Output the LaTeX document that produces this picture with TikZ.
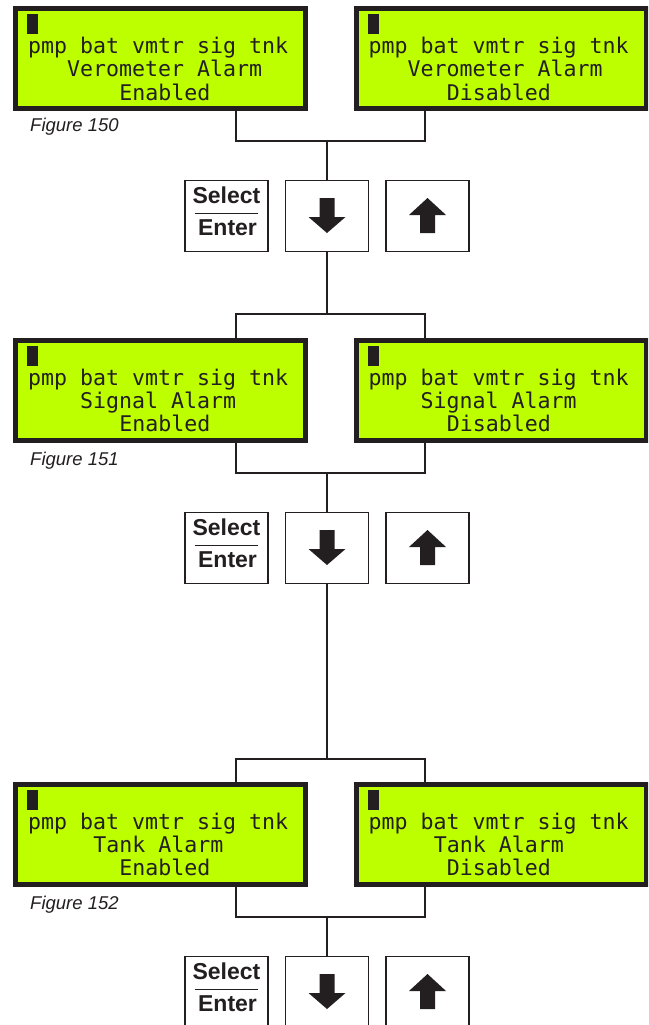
\documentclass[tikz,border=0pt]{standalone}
\usepackage{fontspec}
\setmainfont{Liberation Sans}
\newfontfamily\lcdfont{DejaVu Sans Mono}
\usetikzlibrary{calc}
\definecolor{lcdgreen}{RGB}{190,255,0}
\definecolor{ink}{RGB}{35,31,32}
\tikzset{
 lcd/.style={draw=ink, line width=5pt, fill=lcdgreen, minimum width=290pt, minimum height=100pt, inner sep=0pt, outer sep=0pt},
 lcdtxt/.style={anchor=base west, inner sep=0pt, outer sep=0pt, font=\lcdfont\fontsize{21.6}{24}\selectfont, text=ink},
 keybox/.style={draw=ink, line width=1.2pt, fill=white, minimum width=83pt, minimum height=71pt, inner sep=0pt, outer sep=0pt},
 wire/.style={draw=ink, line width=2pt},
 figlbl/.style={anchor=base west, inner sep=0pt, font=\itshape\fontsize{18.5}{20}\selectfont, text=ink},
 keytxt/.style={inner sep=0pt, font=\bfseries\fontsize{23}{25}\selectfont, text=ink, anchor=base},
}
\newcommand\lcdpanel[7]{%
 \node[lcd] (#1) at (#2,#3) {};
 \fill[ink] ($(#1.north west)+(11.5,6)$) rectangle ++(11,19.5);
 \node[lcdtxt] (#1-a) at ($(#1.north west)+(12.5,45.5)$) {pmp bat vmtr sig tnk};
 \node[lcdtxt] (#1-b) at ($(#1.north west)+(12.5+#4*13.05,68.5)$) {#5};
 \node[lcdtxt] (#1-c) at ($(#1.north west)+(12.5+#6*13.05,91.5)$) {#7};
}
\newcommand\keyrow[2]{%
 \node[keybox] (S#1) at (226.5,#2) {};
 \node[keybox] (D#1) at (327,#2) {};
 \node[keybox] (U#1) at (427.5,#2) {};
 \node[keytxt] (S#1t) at ($(S#1.center)+(0,-13)$) {Select};
 \draw[ink, line width=1pt] ($(S#1.center)+(-32,-3)$) -- ($(S#1.center)+(31,-3)$);
 \node[keytxt] (S#1b) at ($(S#1.center)+(1,19)$) {Enter};
 \begin{scope}[shift={(D#1.center)}]
  \fill[ink] (-7.5,-18) -- (7.5,-18) -- (7.5,1) -- (18.5,1) -- (0,17) -- (-18.5,1) -- (-7.5,1) -- cycle;
 \end{scope}
 \begin{scope}[shift={(U#1.center)}]
  \fill[ink] (-7.5,17) -- (7.5,17) -- (7.5,-1) -- (18.5,-1) -- (0,-18) -- (-18.5,-1) -- (-7.5,-1) -- cycle;
 \end{scope}
}
\begin{document}
\begin{tikzpicture}[x=1pt,y=-1pt]
\useasboundingbox (0,0) rectangle (648,1025);
\clip (0,0) rectangle (648,1025);
\fill[white] (0,0) rectangle (648,1025);

% group 1
\lcdpanel{L1}{160.5}{58.5}{3}{Verometer Alarm}{7}{Enabled}
\lcdpanel{R1}{501}{58.5}{3}{Verometer Alarm}{6}{Disabled}
\node[figlbl] (F1) at (30,131) {Figure 150};
\keyrow{1}{216}
\coordinate (j1) at (327,141);
\draw[wire] ([xshift=75.5pt]L1.south) |- (j1) -| ([xshift=-76pt]R1.south);
\draw[wire] (j1) -- (D1.north);

% group 2
\lcdpanel{L2}{160.5}{390}{4}{Signal Alarm}{7}{Enabled}
\lcdpanel{R2}{501}{390}{4}{Signal Alarm}{6}{Disabled}
\node[figlbl] (F2) at (30,465) {Figure 151};
\coordinate (k2) at (327,314);
\draw[wire] (D1.south) -- (k2);
\draw[wire] ([xshift=75.5pt]L2.north) |- (k2) -| ([xshift=-76pt]R2.north);
\keyrow{2}{548}
\coordinate (j2) at (327,473);
\draw[wire] ([xshift=75.5pt]L2.south) |- (j2) -| ([xshift=-76pt]R2.south);
\draw[wire] (j2) -- (D2.north);

% group 3
\lcdpanel{L3}{160.5}{834}{5}{Tank Alarm}{7}{Enabled}
\lcdpanel{R3}{501}{834}{5}{Tank Alarm}{6}{Disabled}
\node[figlbl] (F3) at (30,909) {Figure 152};
\coordinate (k3) at (327,759);
\draw[wire] (D2.south) -- (k3);
\draw[wire] ([xshift=75.5pt]L3.north) |- (k3) -| ([xshift=-76pt]R3.north);
\keyrow{3}{992}
\coordinate (j3) at (327,917);
\draw[wire] ([xshift=75.5pt]L3.south) |- (j3) -| ([xshift=-76pt]R3.south);
\draw[wire] (j3) -- (D3.north);
\end{tikzpicture}
\end{document}
